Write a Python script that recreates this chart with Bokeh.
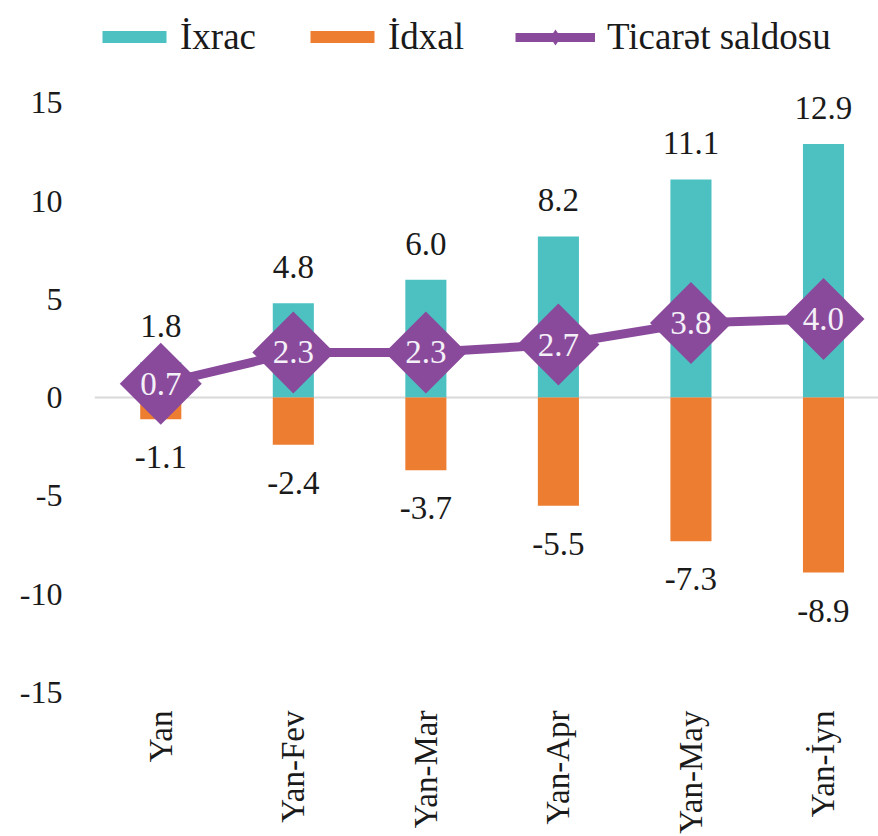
import math
from bokeh.plotting import figure
from bokeh.layouts import column
from bokeh.models import (ColumnDataSource, Range1d, FixedTicker, LabelSet, Span,
                          Legend, LegendItem)
from bokeh.embed import file_html
from bokeh.resources import INLINE

categories = ["Yan", "Yan-Fev", "Yan-Mar", "Yan-Apr", "Yan-May", "Yan-İyn"]
exports = [1.8, 4.8, 6.0, 8.2, 11.1, 12.9]
imports = [-1.1, -2.4, -3.7, -5.5, -7.3, -8.9]
balance = [0.7, 2.3, 2.3, 2.7, 3.8, 4.0]
y_ticks = [-15, -10, -5, 0, 5, 10, 15]
y_tick_labels = ["-15", "-10", "-5", "0", "5", "10", "15"]
series_names = ["İxrac", "İdxal", "Ticarət saldosu"]

FONT = "Liberation Serif"
TEAL = "#4DC1C1"
ORANGE = "#ED7D31"
PURPLE = "#8A4A9C"
TXT = "#1a1a1a"

xs = list(range(len(categories)))
src = ColumnDataSource(dict(
    x=xs, cat=categories, exp=exports, imp=imports, bal=balance,
    exp_t=[f"{v:.1f}" for v in exports],
    imp_t=[f"{v:.1f}" for v in imports],
    bal_t=[f"{v:.1f}" for v in balance],
))

LEG_H = 58

# ---------- main chart ----------
p = figure(width=878, height=836 - LEG_H, output_backend="svg", toolbar_location=None,
           x_range=Range1d(-0.5, 5.415), y_range=Range1d(-15, 17.25),
           min_border_left=94, min_border_right=0, min_border_top=0,
           min_border_bottom=142)
p.outline_line_color = None
p.xgrid.grid_line_color = None
p.ygrid.grid_line_color = None

zero = Span(location=0, dimension="width", line_color="#D9D9D9", line_width=2,
            level="underlay")
p.add_layout(zero)

bar_style = dict(x="x", width=0.31, source=src, line_color=None)
p.vbar(top="exp", bottom=0, fill_color=TEAL, **bar_style)
p.vbar(top=0, bottom="imp", fill_color=ORANGE, **bar_style)
p.line(x="x", y="bal", source=src, line_color=PURPLE, line_width=9)
p.scatter(x="x", y="bal", source=src, marker="square", angle=math.pi / 4,
          size=58, fill_color=PURPLE, line_color=None)

common = dict(text_font=FONT, text_font_size="33px", text_align="center",
              text_baseline="middle", text_color=TXT)
p.add_layout(LabelSet(x="x", y="exp", text="exp_t", y_offset=36, source=src, **common))
p.add_layout(LabelSet(x="x", y="imp", text="imp_t", y_offset=-38, source=src, **common))
bal_style = dict(common)
bal_style["text_color"] = "#F4F0F8"
p.add_layout(LabelSet(x="x", y="bal", text="bal_t", source=src, **bal_style))

p.yaxis.ticker = FixedTicker(ticks=y_ticks)
p.yaxis.major_label_overrides = {t: l for t, l in zip(y_ticks, y_tick_labels)}
p.yaxis.axis_line_color = None
p.yaxis.major_tick_line_color = None
p.yaxis.minor_tick_line_color = None
p.yaxis.major_tick_out = 0
p.yaxis.major_label_standoff = 32
p.yaxis.major_label_text_font = FONT
p.yaxis.major_label_text_font_size = "32px"
p.yaxis.major_label_text_color = TXT

p.xaxis.ticker = FixedTicker(ticks=xs)
p.xaxis.major_label_overrides = {i: c for i, c in zip(xs, categories)}
p.xaxis.axis_line_color = None
p.xaxis.major_tick_line_color = None
p.xaxis.minor_tick_line_color = None
p.xaxis.major_tick_out = 0
p.xaxis.major_label_standoff = 18
p.xaxis.major_label_orientation = math.pi / 2
p.xaxis.major_label_text_font = FONT
p.xaxis.major_label_text_font_size = "33px"
p.xaxis.major_label_text_color = TXT

# ---------- legend strip (same data, drawn out of view; only legend visible) ----------
lg = figure(width=878, height=LEG_H, output_backend="svg", toolbar_location=None,
            x_axis_location=None, y_axis_location=None,
            x_range=Range1d(100, 101), y_range=Range1d(100, 101),
            min_border_left=0, min_border_right=0, min_border_top=0,
            min_border_bottom=0)
lg.outline_line_color = None
lg.xgrid.grid_line_color = None
lg.ygrid.grid_line_color = None
l_exp = lg.vbar(top="exp", bottom=0, fill_color=TEAL, **bar_style)
l_imp = lg.vbar(top=0, bottom="imp", fill_color=ORANGE, **bar_style)
l_line = lg.line(x="x", y="bal", source=src, line_color=PURPLE, line_width=9)
l_pts = lg.scatter(x="x", y="bal", source=src, marker="diamond",
                   size=16, fill_color=PURPLE, line_color=None)


def style_legend(leg, gh, standoff):
    leg.label_text_font = FONT
    leg.label_text_font_size = "37px"
    leg.label_text_color = TXT
    leg.label_text_baseline = "middle"
    leg.glyph_width = 80
    leg.glyph_height = gh
    leg.label_standoff = standoff
    leg.spacing = 46
    leg.padding = 6
    leg.margin = 0
    leg.border_line_color = None
    leg.background_fill_alpha = 0


leg1 = Legend(items=[
    LegendItem(label=series_names[0], renderers=[l_exp]),
    LegendItem(label=series_names[1], renderers=[l_imp]),
], orientation="horizontal", location=(0, 0))
style_legend(leg1, 15, 6)
leg2 = Legend(items=[
    LegendItem(label=series_names[2], renderers=[l_line, l_pts]),
], orientation="horizontal", location=(421, 0))
style_legend(leg2, 40, 12)
lg.add_layout(leg1)
lg.add_layout(leg2)

layout = column(lg, p, spacing=0)
open("out.html", "w").write(file_html(layout, INLINE))
